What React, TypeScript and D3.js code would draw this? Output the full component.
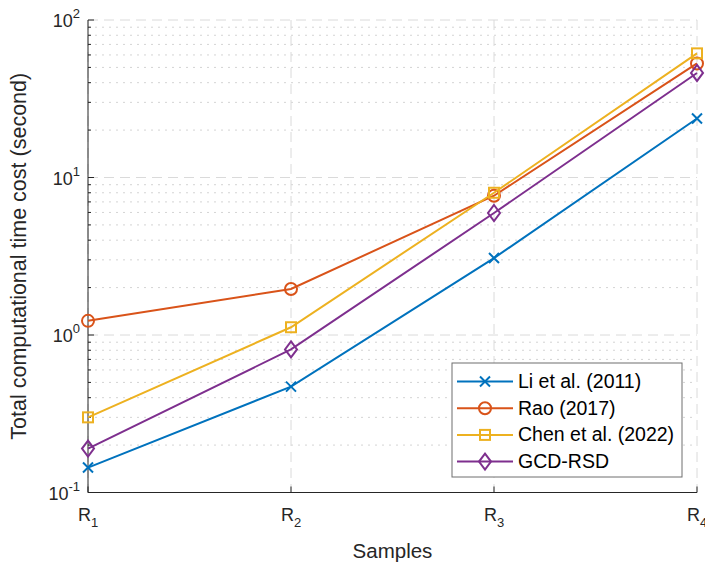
import React, { useEffect, useRef } from "react";
import * as d3 from "d3";

// samples on the x axis (R with subscript)
const samples = ["1", "2", "3", "4"];

// total computational time cost in seconds
const liEtAl = [0.144, 0.47, 3.08, 23.7];
const rao = [1.23, 1.96, 7.66, 53.0];
const chenEtAl = [0.3, 1.12, 8.0, 61.4];
const gcdRsd = [0.19, 0.81, 5.95, 46.1];

const seriesNames = ["Li et al. (2011)", "Rao (2017)", "Chen et al. (2022)", "GCD-RSD"];
const seriesColors = ["#0072BD", "#D95319", "#EDB120", "#7E2F8E"];
const seriesMarkers = ["x", "o", "s", "d"];

const yTickExponents = [-1, 0, 1, 2];
const minorSteps = [2, 3, 4, 5, 6, 7, 8, 9];

const FONT = "'Liberation Sans', Arial, Helvetica, sans-serif";

function drawMarker(g: any, kind: string, cx: number, cy: number, color: string) {
  if (kind === "x") {
    const r = 5;
    g.append("path")
      .attr("d", `M${cx - r},${cy - r}L${cx + r},${cy + r}M${cx - r},${cy + r}L${cx + r},${cy - r}`)
      .attr("stroke", color).attr("stroke-width", 2).attr("fill", "none");
  } else if (kind === "o") {
    g.append("circle").attr("cx", cx).attr("cy", cy).attr("r", 6)
      .attr("stroke", color).attr("stroke-width", 2).attr("fill", "none");
  } else if (kind === "s") {
    g.append("rect").attr("x", cx - 5).attr("y", cy - 5).attr("width", 10).attr("height", 10)
      .attr("stroke", color).attr("stroke-width", 2).attr("fill", "none");
  } else {
    g.append("path")
      .attr("d", `M${cx},${cy - 8}L${cx + 6},${cy}L${cx},${cy + 8}L${cx - 6},${cy}Z`)
      .attr("stroke", color).attr("stroke-width", 2).attr("fill", "none");
  }
}

export default function App() {
  const ref = useRef<SVGSVGElement>(null);

  useEffect(() => {
    document.body.style.margin = "0";
    const svg = d3.select(ref.current);
    svg.selectAll("*").remove();

    const margin = { top: 20, right: 8, bottom: 72.5, left: 88 };
    const W = 705, H = 565;
    const w = W - margin.left - margin.right;
    const h = H - margin.top - margin.bottom;

    const x = d3.scalePoint().domain(samples).range([0, w]);
    const y = d3.scaleLog().domain([0.1, 100]).range([h, 0]);

    const g = svg.append("g").attr("transform", `translate(${margin.left},${margin.top})`);

    // minor grid (dotted)
    const minorVals: number[] = [];
    yTickExponents.slice(0, 3).forEach(e => minorSteps.forEach(k => minorVals.push(k * Math.pow(10, e))));
    g.selectAll(".minor").data(minorVals).join("line")
      .attr("x1", 0).attr("x2", w)
      .attr("y1", d => y(d)).attr("y2", d => y(d))
      .attr("stroke", "#d4d4d4").attr("stroke-width", 1)
      .attr("stroke-dasharray", "2,5");

    // major grid (dashed)
    g.selectAll(".hmajor").data(yTickExponents).join("line")
      .attr("x1", 0).attr("x2", w)
      .attr("y1", d => y(Math.pow(10, d))).attr("y2", d => y(Math.pow(10, d)))
      .attr("stroke", "#dadada").attr("stroke-width", 1)
      .attr("stroke-dasharray", "10,6");
    g.selectAll(".vmajor").data(samples).join("line")
      .attr("x1", d => x(d)!).attr("x2", d => x(d)!)
      .attr("y1", 0).attr("y2", h)
      .attr("stroke", "#dadada").attr("stroke-width", 1)
      .attr("stroke-dasharray", "10,6");

    // axes lines
    const axisColor = "#262626";
    g.append("line").attr("x1", 0).attr("x2", 0).attr("y1", 0).attr("y2", h)
      .attr("stroke", axisColor).attr("stroke-width", 1);
    g.append("line").attr("x1", 0).attr("x2", w).attr("y1", h).attr("y2", h)
      .attr("stroke", axisColor).attr("stroke-width", 1);

    // y ticks
    yTickExponents.forEach(e => {
      const yy = y(Math.pow(10, e));
      g.append("line").attr("x1", 0).attr("x2", 6).attr("y1", yy).attr("y2", yy)
        .attr("stroke", axisColor).attr("stroke-width", 1);
      const t = g.append("text").attr("x", -8).attr("y", yy + 7)
        .attr("text-anchor", "end").attr("fill", axisColor)
        .style("font-family", FONT).style("font-size", "18px");
      t.append("tspan").text("10");
      t.append("tspan").attr("dy", -9).style("font-size", "13px").text(String(e));
    });
    minorVals.forEach(v => {
      g.append("line").attr("x1", 0).attr("x2", 3).attr("y1", y(v)).attr("y2", y(v))
        .attr("stroke", axisColor).attr("stroke-width", 1);
    });

    // x ticks
    samples.forEach(s => {
      const xx = x(s)!;
      g.append("line").attr("x1", xx).attr("x2", xx).attr("y1", h).attr("y2", h - 6)
        .attr("stroke", axisColor).attr("stroke-width", 1);
      const t = g.append("text").attr("x", xx).attr("y", h + 28)
        .attr("text-anchor", "middle").attr("fill", axisColor)
        .style("font-family", FONT).style("font-size", "18px");
      t.append("tspan").text("R");
      t.append("tspan").attr("dy", 6).style("font-size", "13px").text(s);
    });

    // axis titles
    g.append("text").attr("x", w / 2).attr("y", h + 65)
      .attr("text-anchor", "middle").attr("fill", axisColor)
      .style("font-family", FONT).style("font-size", "20.5px").text("Samples");
    g.append("text")
      .attr("transform", `translate(${-62},${h / 2}) rotate(-90)`)
      .attr("text-anchor", "middle").attr("fill", axisColor)
      .style("font-family", FONT).style("font-size", "21.5px")
      .text("Total computational time cost (second)");

    // series
    const allSeries = [liEtAl, rao, chenEtAl, gcdRsd];
    const line = d3.line<number>().x((d, i) => x(samples[i])!).y(d => y(d));
    allSeries.forEach((vals, si) => {
      g.append("path").datum(vals).attr("d", line)
        .attr("fill", "none").attr("stroke", seriesColors[si]).attr("stroke-width", 2);
      vals.forEach((v, i) => drawMarker(g, seriesMarkers[si], x(samples[i])!, y(v), seriesColors[si]));
    });

    // legend
    const lg = svg.append("g").attr("transform", "translate(452,363)");
    lg.append("rect").attr("x", 0).attr("y", 0).attr("width", 230).attr("height", 114)
      .attr("fill", "white").attr("stroke", "#6e6e6e").attr("stroke-width", 1);
    seriesNames.forEach((name, si) => {
      const cy = 18.5 + si * 26.7;
      lg.append("line").attr("x1", 5).attr("x2", 61).attr("y1", cy).attr("y2", cy)
        .attr("stroke", seriesColors[si]).attr("stroke-width", 2);
      drawMarker(lg, seriesMarkers[si], 33, cy, seriesColors[si]);
      lg.append("text").attr("x", 66).attr("y", cy + 6.5).attr("fill", "#000")
        .style("font-family", FONT).style("font-size", "19.5px").text(name);
    });
  }, []);

  return <svg ref={ref} width={705} height={565} style={{ display: "block" }}></svg>;
}
